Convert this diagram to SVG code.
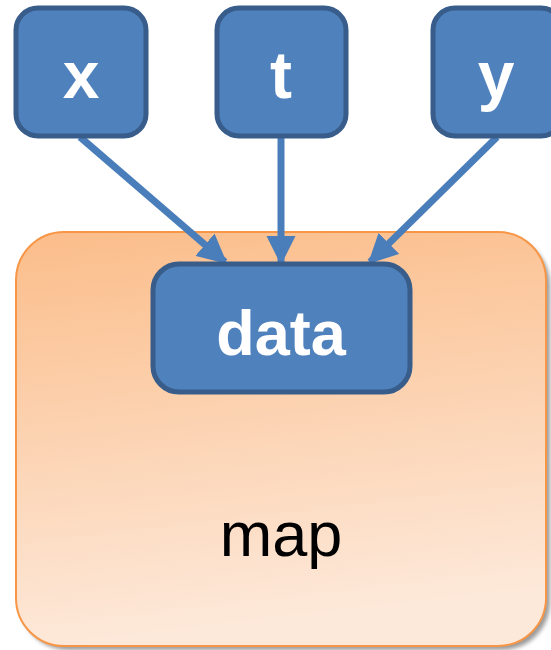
<svg xmlns="http://www.w3.org/2000/svg" width="551" height="650" viewBox="0 0 551 650">
<style>
.node{fill:#4f81bd;stroke:#385d8a;stroke-width:5}
.lbl{font-family:"Liberation Sans",Arial,sans-serif;font-weight:bold;fill:#fff;text-anchor:middle}
.conn{stroke:#4a7ebb;stroke-width:7;fill:none;marker-end:url(#ah)}
</style>
<defs>
<linearGradient id="og" x1="0" y1="0" x2="0.15" y2="1">
<stop offset="0" stop-color="#fbbd8a"/>
<stop offset="1" stop-color="#fde9da"/>
</linearGradient>
<filter id="sh" x="-5%" y="-5%" width="115%" height="115%">
<feGaussianBlur stdDeviation="2"/>
</filter>
<marker id="ah" viewBox="0 0 10 10" refX="9" refY="5" markerWidth="4.2" markerHeight="4.2" orient="auto" markerUnits="strokeWidth">
<path d="M0,0 L10,5 L0,10 Z" fill="#4a7ebb"/>
</marker>
</defs>
<g id="map">
<rect x="20" y="237" width="530" height="413" rx="48" fill="#9a9a9a" filter="url(#sh)"/>
<rect x="16" y="232" width="530" height="414" rx="48" fill="url(#og)" stroke="#f79646" stroke-width="2"/>
<text x="281" y="556" font-family="'Liberation Sans',Arial,sans-serif" font-size="63" text-anchor="middle" fill="#000">map</text>
</g>
<g id="connectors">
<line class="conn" x1="80" y1="137" x2="225" y2="262"/>
<line class="conn" x1="281" y1="137" x2="281" y2="262"/>
<line class="conn" x1="497" y1="137" x2="370" y2="262"/>
</g>
<g id="x">
<rect class="node" x="16" y="8" width="130" height="128" rx="22"/>
<text class="lbl" x="81" y="98" font-size="66">x</text>
</g>
<g id="t">
<rect class="node" x="217" y="8" width="129" height="128" rx="22"/>
<text class="lbl" x="281" y="98" font-size="66">t</text>
</g>
<g id="y">
<rect class="node" x="433" y="8" width="130" height="128" rx="22"/>
<text class="lbl" x="496" y="98" font-size="66">y</text>
</g>
<g id="data">
<rect class="node" x="153" y="264" width="257" height="128" rx="26"/>
<text class="lbl" x="281" y="355" font-size="63">data</text>
</g>
</svg>
